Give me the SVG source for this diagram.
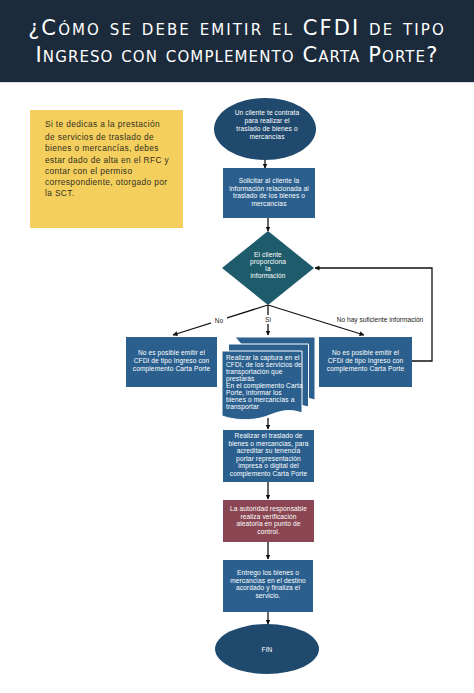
<svg xmlns="http://www.w3.org/2000/svg" width="474" height="693" viewBox="0 0 474 693">
<defs>
<marker id="ah" viewBox="0 0 10 10" refX="9" refY="5" markerWidth="5" markerHeight="5" orient="auto-start-reverse" markerUnits="userSpaceOnUse">
<path d="M0,0 L10,5 L0,10 Z" fill="#111"/>
</marker>
<style>
.t{font-family:"Liberation Sans","Noto Sans",sans-serif;font-size:6.6px;letter-spacing:0.1px;fill:#fff;text-anchor:middle}
.tl{font-family:"Liberation Sans","Noto Sans",sans-serif;font-size:6.6px;letter-spacing:0.1px;fill:#fff}
.y{font-family:"Liberation Sans","Noto Sans",sans-serif;font-size:8.4px;letter-spacing:0.35px;fill:#33301f}
.lbl{font-family:"Liberation Sans","Noto Sans",sans-serif;font-size:6.6px;fill:#222;text-anchor:middle}
.h{font-family:"DejaVu Sans","Liberation Sans",sans-serif;font-variant:small-caps;fill:#fff;text-anchor:middle;font-size:21px;letter-spacing:2.1px}
.c{stroke:#111;stroke-width:1.3;fill:none;marker-end:url(#ah)}
.rect{fill:#2b5f8e}
.doc{fill:#2b5f8e;stroke:#fff;stroke-width:1}
</style>
</defs>
<rect width="474" height="693" fill="#fff"/>
<g id="header">
<rect x="0" y="0" width="474" height="82" fill="#1c2b3b"/>
<line x1="0" y1="82.5" x2="474" y2="82.5" stroke="#d8dde2" stroke-width="1"/>
<text class="h" x="237" y="35">¿Cómo se debe emitir el CFDI de tipo</text>
<text class="h" x="237" y="62" style="letter-spacing:1.1px">Ingreso con complemento Carta Porte?</text>
</g>
<g id="note">
<rect x="30" y="110" width="153" height="118" fill="#f4cf5e"/>
<text class="y" x="45" y="127">Si te dedicas a la prestación</text>
<text class="y" x="45" y="140">de servicios de traslado de</text>
<text class="y" x="45" y="151">bienes o mercancías, debes</text>
<text class="y" x="45" y="163">estar dado de alta en el RFC y</text>
<text class="y" x="45" y="174">contar con el permiso</text>
<text class="y" x="45" y="185">correspondiente, otorgado por</text>
<text class="y" x="45" y="196">la SCT.</text>
</g>
<g id="connectors">
<line class="c" x1="265" y1="160" x2="265" y2="168"/>
<line class="c" x1="268" y1="218" x2="268" y2="231"/>
<line class="c" x1="268" y1="305" x2="173" y2="335"/>
<line class="c" x1="268" y1="305" x2="268" y2="335"/>
<line class="c" x1="268" y1="305" x2="364" y2="335"/>
<polyline class="c" points="412,361 432,361 432,268 315,268"/>
<line class="c" x1="268" y1="418" x2="268" y2="429"/>
<line class="c" x1="268" y1="482" x2="268" y2="499"/>
<line class="c" x1="268" y1="542" x2="268" y2="559"/>
<line class="c" x1="268" y1="612" x2="268" y2="624"/>
<rect x="211" y="316" width="16" height="9" fill="#fff"/>
<text class="lbl" x="219" y="323">No</text>
<rect x="263" y="315" width="10" height="9" fill="#fff"/>
<text class="lbl" x="268" y="322">Si</text>
<text class="lbl" x="380" y="322">No hay suficiente información</text>
</g>
<g id="start">
<ellipse cx="265" cy="129" rx="51" ry="31" fill="#1f4a6e"/>
<text class="t" x="267" y="115">Un cliente te contrata</text>
<text class="t" x="267" y="123">para realizar el</text>
<text class="t" x="267" y="131">traslado de bienes o</text>
<text class="t" x="267" y="139">mercancías</text>
</g>
<g id="solicitar">
<rect class="rect" x="223" y="168" width="92" height="50"/>
<text class="t" x="269" y="183">Solicitar al cliente la</text>
<text class="t" x="269" y="190.5">información relacionada al</text>
<text class="t" x="269" y="198">traslado de los bienes o</text>
<text class="t" x="269" y="205.5">mercancías</text>
</g>
<g id="decision">
<polygon points="268,231 314,268 268,305 222,268" fill="#1f5c6b"/>
<text class="t" x="268" y="257">El cliente</text>
<text class="t" x="268" y="264">proporciona</text>
<text class="t" x="268" y="271">la</text>
<text class="t" x="268" y="278">información</text>
</g>
<g id="no-left">
<rect class="rect" x="126" y="337" width="91" height="50"/>
<text class="t" x="171.5" y="355">No es posible emitir el</text>
<text class="t" x="171.5" y="363">CFDI de tipo Ingreso con</text>
<text class="t" x="171.5" y="371">complemento Carta Porte</text>
</g>
<g id="captura">
<path class="doc" d="M235,337 H315 V400 C305,397 298,397 290,401 Z"/>
<path class="doc" d="M228.5,344 H308.5 V407 C298,404 290,404 282,409 L228.5,409 Z"/>
<path class="doc" d="M222,351 H302 V413 C292,409 282,410 270,415 C258,420 240,422 222,416 Z"/>
<text class="tl" x="226" y="360">Realizar la captura en el</text>
<text class="tl" x="226" y="367">CFDI, de los servicios de</text>
<text class="tl" x="226" y="374">transportación que</text>
<text class="tl" x="226" y="381">prestarás</text>
<text class="tl" x="226" y="388">En el complemento Carta</text>
<text class="tl" x="226" y="395">Porte, informar los</text>
<text class="tl" x="226" y="402">bienes o mercancías a</text>
<text class="tl" x="226" y="409">transportar</text>
</g>
<g id="no-right">
<rect class="rect" x="319" y="337" width="93" height="50"/>
<text class="t" x="365.5" y="355">No es posible emitir el</text>
<text class="t" x="365.5" y="363">CFDI de tipo Ingreso con</text>
<text class="t" x="365.5" y="371">complemento Carta Porte</text>
</g>
<g id="traslado">
<rect class="rect" x="223" y="430" width="91" height="52"/>
<text class="t" x="268.5" y="438">Realizar el traslado de</text>
<text class="t" x="268.5" y="445.5">bienes o mercancías, para</text>
<text class="t" x="268.5" y="453">acreditar su tenencia</text>
<text class="t" x="268.5" y="460.5">portar representación</text>
<text class="t" x="268.5" y="468">impresa o digital del</text>
<text class="t" x="268.5" y="475.5">complemento Carta Porte</text>
</g>
<g id="autoridad">
<rect x="223" y="500" width="91" height="42" fill="#8a4652"/>
<text class="t" x="268.5" y="511">La autoridad responsable</text>
<text class="t" x="268.5" y="518.5">realiza verificación</text>
<text class="t" x="268.5" y="526">aleatoria en punto de</text>
<text class="t" x="268.5" y="533.5">control.</text>
</g>
<g id="entrega">
<rect class="rect" x="223" y="560" width="90" height="52"/>
<text class="t" x="268" y="575">Entrego los bienes o</text>
<text class="t" x="268" y="582.5">mercancías en el destino</text>
<text class="t" x="268" y="590">acordado y finaliza el</text>
<text class="t" x="268" y="597.5">servicio.</text>
</g>
<g id="fin">
<ellipse cx="267" cy="649" rx="52" ry="25" fill="#1f4a6e"/>
<text class="t" x="267" y="652">FIN</text>
</g>
</svg>
